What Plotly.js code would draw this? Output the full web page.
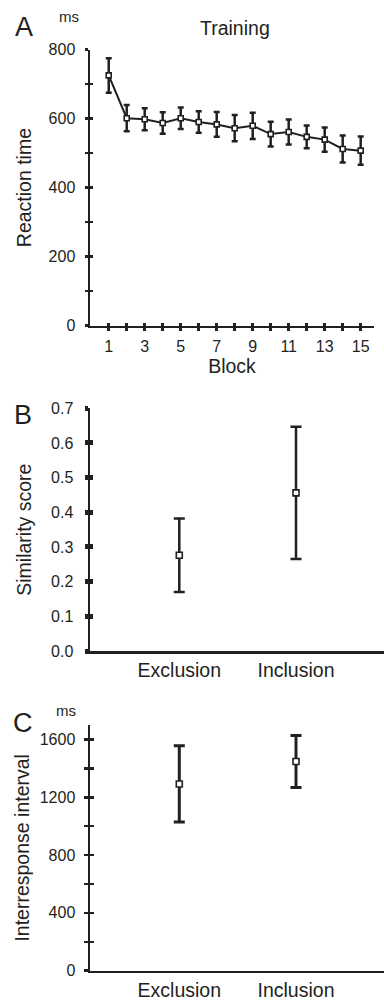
<!DOCTYPE html>
<html>
<head>
<meta charset="utf-8">
<script src="https://cdn.plot.ly/plotly-3.0.1.min.js"></script>
<style>
  html, body { margin: 0; padding: 0; background: #fff; }
  #chart { width: 384px; height: 1001px; }
</style>
</head>
<body>
<div id="chart"></div>
<script>
// ---- Data ----
const blocks = [1, 2, 3, 4, 5, 6, 7, 8, 9, 10, 11, 12, 13, 14, 15];
const blockTickLabels = ['1', '', '3', '', '5', '', '7', '', '9', '', '11', '', '13', '', '15'];
const rtMean = [725, 601, 598, 587, 601, 590, 583, 572, 579, 555, 561, 547, 539, 512, 507];
const rtErr  = [50, 38, 32, 31, 31, 31, 36, 38, 38, 36, 36, 33, 35, 39, 41];

const conditions = ['Exclusion', 'Inclusion'];
const simMean = [0.276, 0.456];
const simErr  = [0.106, 0.191];

const iriMean = [1292, 1447];
const iriErr  = [264, 180];

const rtTickVals = [0, 200, 400, 600, 800];
const simTickVals = [0, 0.1, 0.2, 0.3, 0.4, 0.5, 0.6, 0.7];
const iriTickVals = [0, 400, 800, 1200, 1600];

// ---- Style ----
const INK = '#231f20';
const FONT = 'Liberation Sans, Arial, Helvetica, sans-serif';
const W = 384, H = 1001;
const px = v => v / W;
const py = v => 1 - v / H;

const marker = (s) => ({ symbol: 'square', size: s, color: '#ffffff', line: { color: INK, width: 1.6 } });

const traces = [
  {
    type: 'scatter', mode: 'lines+markers', x: blocks, y: rtMean,
    xaxis: 'x', yaxis: 'y',
    line: { color: INK, width: 2 },
    marker: marker(5),
    error_y: { type: 'data', array: rtErr, visible: true, color: INK, thickness: 2.5, width: 3 },
    hoverinfo: 'skip'
  },
  {
    type: 'scatter', mode: 'markers', x: conditions, y: simMean,
    xaxis: 'x2', yaxis: 'y2',
    marker: marker(6),
    error_y: { type: 'data', array: simErr, visible: true, color: INK, thickness: 2.5, width: 5.5 },
    hoverinfo: 'skip'
  },
  {
    type: 'scatter', mode: 'markers', x: conditions, y: iriMean,
    xaxis: 'x3', yaxis: 'y3',
    marker: marker(6),
    error_y: { type: 'data', array: iriErr, visible: true, color: INK, thickness: 3, width: 5.5 },
    hoverinfo: 'skip'
  },
  // empty traces so the overlaid tick-only axes are created
  { type: 'scatter', mode: 'markers', x: [], y: [], xaxis: 'x4', yaxis: 'y4', hoverinfo: 'skip' },
  { type: 'scatter', mode: 'markers', x: [], y: [], xaxis: 'x2', yaxis: 'y5', hoverinfo: 'skip' },
  { type: 'scatter', mode: 'markers', x: [], y: [], xaxis: 'x3', yaxis: 'y6', hoverinfo: 'skip' }
];

const tickFont = { family: FONT, size: 16, color: INK };
const titleFont = { family: FONT, size: 19.5, color: INK };
const baseAxis = {
  showgrid: false, zeroline: false, showline: true, linecolor: INK, linewidth: 2.5,
  tickcolor: INK, tickfont: tickFont, fixedrange: true
};

const xDomA = [px(90), px(374)];
const xDomBC = [px(90), 1];
const yDomA = [py(325.7), py(49.5)];
const yDomB = [py(651), py(408.3)];
const yDomC = [py(970.7), py(725)];
const catRange = [-0.765, 1.754];

const layout = {
  width: W, height: H,
  margin: { l: 0, r: 0, t: 0, b: 0 },
  paper_bgcolor: '#ffffff', plot_bgcolor: 'rgba(0,0,0,0)',
  showlegend: false,
  font: { family: FONT, color: INK },

  // Panel A
  xaxis: Object.assign({}, baseAxis, {
    domain: xDomA, anchor: 'y', range: [-0.04, 15.74],
    tickmode: 'array', tickvals: blocks, ticktext: blockTickLabels,
    ticks: 'outside', ticklen: 2.5, tickwidth: 2.5, ticklabelstandoff: 2,
    title: { text: 'Block', font: titleFont, standoff: 0 }
  }),
  yaxis: Object.assign({}, baseAxis, {
    domain: yDomA, anchor: 'x', range: [0, 800],
    tickmode: 'array', tickvals: rtTickVals,
    ticks: 'outside', ticklen: 3, tickwidth: 2.5, ticklabelstandoff: 6,
    minor: { dtick: 100, ticks: 'outside', ticklen: 3, tickwidth: 2.5, tickcolor: INK },
    title: { text: 'Reaction time', font: titleFont, standoff: 12 }
  }),
  xaxis4: {
    overlaying: 'x', anchor: 'y', domain: xDomA, range: [-0.04, 15.74],
    showgrid: false, zeroline: false, showline: false, showticklabels: false,
    tickmode: 'array', tickvals: blocks, ticks: 'inside', ticklen: 2.5, tickwidth: 2.5, tickcolor: INK, fixedrange: true
  },
  yaxis4: {
    overlaying: 'y', anchor: 'x4', domain: yDomA, range: [0, 800],
    showgrid: false, zeroline: false, showline: false, showticklabels: false,
    dtick: 100, ticks: 'inside', ticklen: 3, tickwidth: 2.5, tickcolor: INK, fixedrange: true
  },

  // Panel B
  xaxis2: Object.assign({}, baseAxis, {
    domain: xDomBC, anchor: 'y2', type: 'category', categoryorder: 'array', categoryarray: conditions,
    range: catRange, ticks: '', tickfont: titleFont, ticklabelstandoff: 0
  }),
  yaxis2: Object.assign({}, baseAxis, {
    domain: yDomB, anchor: 'x2', range: [0, 0.7],
    tickmode: 'array', tickvals: simTickVals, tickformat: '.1f',
    ticks: 'outside', ticklen: 3, tickwidth: 5, ticklabelstandoff: 8,
    title: { text: 'Similarity score', font: titleFont, standoff: 14 }
  }),
  yaxis5: {
    overlaying: 'y2', anchor: 'x2', domain: yDomB, range: [0, 0.7],
    showgrid: false, zeroline: false, showline: false, showticklabels: false,
    tickmode: 'array', tickvals: simTickVals, ticks: 'inside', ticklen: 3, tickwidth: 5, tickcolor: INK, fixedrange: true
  },

  // Panel C
  xaxis3: Object.assign({}, baseAxis, {
    domain: xDomBC, anchor: 'y3', type: 'category', categoryorder: 'array', categoryarray: conditions,
    range: catRange, ticks: '', tickfont: titleFont, ticklabelstandoff: 0
  }),
  yaxis3: Object.assign({}, baseAxis, {
    domain: yDomC, anchor: 'x3', range: [0, 1700],
    tickmode: 'array', tickvals: iriTickVals,
    ticks: 'outside', ticklen: 4, tickwidth: 2.5, ticklabelstandoff: 5,
    minor: { dtick: 200, ticks: 'outside', ticklen: 4, tickwidth: 2.5, tickcolor: INK },
    title: { text: 'Interresponse interval', font: titleFont, standoff: 5 }
  }),
  yaxis6: {
    overlaying: 'y3', anchor: 'x3', domain: yDomC, range: [0, 1700],
    showgrid: false, zeroline: false, showline: false, showticklabels: false,
    dtick: 200, ticks: 'inside', ticklen: 4, tickwidth: 2.5, tickcolor: INK, fixedrange: true
  },

  annotations: [
    { text: 'A', x: px(24), y: py(27), xref: 'paper', yref: 'paper', showarrow: false, xanchor: 'center', yanchor: 'middle', font: { family: FONT, size: 27, color: INK } },
    { text: 'ms', x: px(69), y: py(17), xref: 'paper', yref: 'paper', showarrow: false, xanchor: 'center', yanchor: 'middle', font: { family: FONT, size: 15, color: INK } },
    { text: 'Training', x: px(235), y: py(28), xref: 'paper', yref: 'paper', showarrow: false, xanchor: 'center', yanchor: 'middle', font: titleFont },
    { text: 'B', x: px(23), y: py(415), xref: 'paper', yref: 'paper', showarrow: false, xanchor: 'center', yanchor: 'middle', font: { family: FONT, size: 27, color: INK } },
    { text: 'C', x: px(23), y: py(723), xref: 'paper', yref: 'paper', showarrow: false, xanchor: 'center', yanchor: 'middle', font: { family: FONT, size: 27, color: INK } },
    { text: 'ms', x: px(66), y: py(710), xref: 'paper', yref: 'paper', showarrow: false, xanchor: 'center', yanchor: 'middle', font: { family: FONT, size: 15, color: INK } }
  ]
};

Plotly.newPlot('chart', traces, layout, { staticPlot: true, displayModeBar: false });
</script>
</body>
</html>
